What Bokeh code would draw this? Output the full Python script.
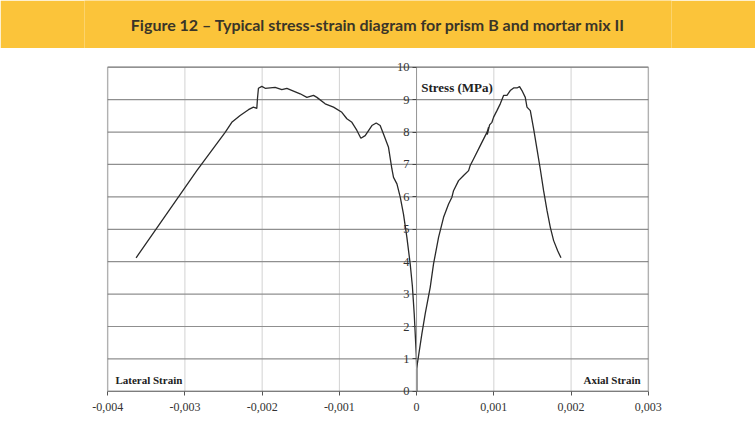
from bokeh.plotting import figure
from bokeh.models import Range1d, FixedTicker, CustomJSTickFormatter, Label, BoxAnnotation
from bokeh.layouts import column
from bokeh.embed import file_html
from bokeh.resources import INLINE
from bokeh.core.properties import value

title_text = "Figure 12 – Typical stress-strain diagram for prism B and mortar mix II"

lateral_strain = [-0.003632, -0.002846, -0.002479, -0.002393, -0.002285, -0.002177, -0.002113,
                  -0.002069, -0.002061, -0.002048, -0.002004, -0.001961, -0.001832, -0.001745,
                  -0.001680, -0.001508, -0.001421, -0.001335, -0.001291, -0.001184, -0.001076,
                  -0.000968, -0.000903, -0.000838, -0.000773, -0.000722, -0.000666, -0.000579,
                  -0.000523, -0.000472, -0.000429, -0.000364, -0.000320, -0.000299, -0.000255,
                  -0.000212, -0.000170, -0.000126, -0.000083, -0.000055, -0.000031, -0.000018,
                  -0.000005, 0.0, 0.0]
lateral_stress = [4.12, 6.81, 7.99, 8.30, 8.51, 8.69, 8.77,
                  8.73, 9.02, 9.35, 9.41, 9.35, 9.38, 9.31,
                  9.35, 9.18, 9.07, 9.13, 9.07, 8.87, 8.77,
                  8.61, 8.41, 8.30, 8.05, 7.81, 7.89, 8.20,
                  8.28, 8.20, 7.94, 7.53, 6.86, 6.60, 6.40,
                  5.99, 5.47, 4.75, 3.93, 3.25, 2.39, 1.77,
                  1.15, 0.74, 0.0]

axial_strain = [0.0, 0.0, 0.000068, 0.000111, 0.000176, 0.000219, 0.000284, 0.000349, 0.000414,
                0.000457, 0.000478, 0.000543, 0.000608, 0.000673, 0.000694, 0.000737, 0.000824,
                0.000889, 0.000911, 0.000932, 0.000915, 0.000945, 0.000975, 0.000997, 0.001040,
                0.001083, 0.001126, 0.001170, 0.001212, 0.001256, 0.001299, 0.001333, 0.001364,
                0.001407, 0.001429, 0.001472, 0.001515, 0.001558, 0.001601, 0.001644, 0.001688,
                0.001731, 0.001774, 0.001826, 0.001869]
axial_stress = [0.0, 0.70, 1.77, 2.39, 3.21, 3.93, 4.75, 5.37, 5.78,
                5.99, 6.19, 6.50, 6.66, 6.81, 6.97, 7.17, 7.58,
                7.89, 7.99, 8.15, 7.92, 8.22, 8.30, 8.46, 8.66,
                8.87, 9.13, 9.13, 9.28, 9.36, 9.36, 9.40, 9.28,
                9.07, 8.77, 8.66, 8.10, 7.48, 6.86, 6.19, 5.58,
                5.06, 4.65, 4.34, 4.12]

x_ticks = [-0.004, -0.003, -0.002, -0.001, 0.0, 0.001, 0.002, 0.003]
y_ticks = [0, 1, 2, 3, 4, 5, 6, 7, 8, 9, 10]

X_MIN, X_MAX = x_ticks[0], x_ticks[-1]
Y_MIN, Y_MAX = y_ticks[0], y_ticks[-1]

YELLOW = "#FBC43A"
SERIF = "Liberation Serif"

# ---- title bar ----
t = figure(width=755, height=48, x_range=Range1d(0, 1), y_range=Range1d(0, 1),
           output_backend="svg", toolbar_location=None, min_border=0,
           x_axis_location=None, y_axis_location=None)
t.background_fill_color = YELLOW
t.border_fill_color = YELLOW
t.outline_line_color = None
t.grid.visible = False
t.text(x=[0.5], y=[0.5], text=[title_text], text_align="center", text_baseline="middle",
       text_font=value("Lato"), text_font_size="16px", text_font_style="bold",
       text_color="#3a3528")

# ---- chart ----
# the frame is larger than the drawn box so that the axis labels are not clipped
p = figure(width=755, height=386,
           x_range=Range1d(X_MIN - 0.0003, X_MAX + 0.0003),
           y_range=Range1d(Y_MIN - 0.9, Y_MAX + 0.3),
           output_backend="svg", toolbar_location=None,
           min_border_left=84, min_border_right=84, min_border_top=9, min_border_bottom=14)
p.background_fill_color = "white"
p.border_fill_color = "white"
p.outline_line_color = None
p.grid.visible = False

n_x, n_y = len(x_ticks), len(y_ticks)
# vertical grid lines
p.segment(x0=x_ticks, y0=[Y_MIN] * n_x, x1=x_ticks, y1=[Y_MAX] * n_x,
          line_color="#d2d2d2", line_width=1)
# horizontal grid lines
p.segment(x0=[X_MIN] * n_y, y0=y_ticks, x1=[X_MAX] * n_y, y1=y_ticks,
          line_color="#8f8f8f", line_width=1.2)

p.add_layout(BoxAnnotation(left=X_MIN, right=X_MAX, bottom=Y_MIN, top=Y_MAX,
                           fill_alpha=0, fill_color=None,
                           line_color="#555555", line_width=1.5))

xa = p.xaxis[0]
xa.fixed_location = 0
xa.bounds = (X_MIN, X_MAX)
xa.ticker = FixedTicker(ticks=x_ticks)
xa.formatter = CustomJSTickFormatter(
    code="if (Math.abs(tick) < 1e-12) { return '0'; } return tick.toFixed(3).replace('.', ',');")
xa.axis_line_color = None
xa.major_tick_out = 4
xa.major_tick_in = 0
xa.major_tick_line_color = "#555555"
xa.minor_tick_line_color = None
xa.major_label_standoff = 8
xa.major_label_text_font = SERIF
xa.major_label_text_font_size = "12px"
xa.major_label_text_color = "#333333"

ya = p.yaxis[0]
ya.fixed_location = 0
ya.bounds = (Y_MIN, Y_MAX)
ya.ticker = FixedTicker(ticks=y_ticks)
ya.axis_line_color = "#999999"
ya.major_tick_out = 4
ya.major_tick_in = 0
ya.major_tick_line_color = "#444444"
ya.minor_tick_line_color = None
ya.major_label_standoff = 3
ya.major_label_text_font = SERIF
ya.major_label_text_font_size = "12.5px"
ya.major_label_text_color = "#333333"

p.line(lateral_strain, lateral_stress, line_color="#2a2a2a", line_width=1.3)
p.line(axial_strain, axial_stress, line_color="#2a2a2a", line_width=1.3)

p.add_layout(Label(x=0.00006, y=9.36, text="Stress  (MPa)", text_baseline="middle",
                   text_font=SERIF, text_font_size="13px", text_font_style="bold",
                   text_color="#222222"))
p.add_layout(Label(x=-0.0039, y=0.36, text="Lateral Strain", text_baseline="middle",
                   text_font=SERIF, text_font_size="11px", text_font_style="bold",
                   text_color="#222222"))
p.add_layout(Label(x=0.0029, y=0.36, text="Axial Strain", text_baseline="middle",
                   text_align="right",
                   text_font=SERIF, text_font_size="11px", text_font_style="bold",
                   text_color="#222222"))

layout = column(t, p, spacing=0)
open("out.html", "w").write(file_html(layout, INLINE))
